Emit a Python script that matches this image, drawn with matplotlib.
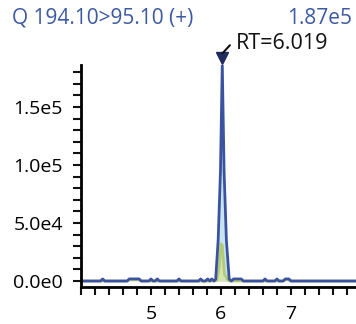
import numpy as np
import matplotlib.pyplot as plt
from matplotlib.transforms import ScaledTranslation
from matplotlib.ticker import FixedLocator, MultipleLocator, FuncFormatter

plt.rcParams['font.family'] = ['Open Sans', 'DejaVu Sans']

title = 'Q 194.10>95.10 (+)'
max_label = '1.87e5'
rt = 6.019
apex = 187000
rt_label = 'RT=6.019'

# main trace (time in min, intensity)
t_main = [4.0, 4.28, 4.31, 4.34, 4.66, 4.69, 4.83, 4.86, 4.97, 5.0, 5.03, 5.06, 5.09, 5.12,
          5.37, 5.40, 5.43, 5.68, 5.71, 5.74, 5.78, 5.81, 5.84, 5.87, 5.90, 5.925,
          5.96, 5.993, 6.019, 6.045, 6.078, 6.118, 6.15, 6.18, 6.29, 6.32,
          6.60, 6.63, 6.66, 6.77, 6.80, 6.83, 6.89, 6.92, 6.97, 7.00, 7.95]
i_main = [0, 0, 1800, 0, 0, 1800, 1800, 0, 0, 1800, 0, 0, 1800, 0,
          0, 1800, 0, 0, 1800, 0, 0, 1800, 0, 1800, 0, 1500,
          35000, 94000, 187000, 94000, 35000, 1500, 0, 1800, 1800, 0,
          0, 1800, 0, 0, 1800, 0, 0, 1800, 1800, 0, 0]

# qualifier trace
t_qual = [4.0, 4.66, 4.69, 4.83, 4.86, 5.90, 5.94, 5.975, 6.0, 6.019, 6.05, 6.09, 6.12,
          6.89, 6.92, 6.97, 7.00, 7.95]
i_qual = [0, 0, 1500, 1500, 0, 0, 500, 12000, 32000, 31000, 6000, 1500, 0,
          0, 1500, 1500, 0, 0]

blue = '#3a52a0'
green = '#b3ca78'

fig = plt.figure(figsize=(3.56, 3.24), dpi=100)
ax = fig.add_axes([0.2275, 0.114, 0.7725, 0.685])

# peak fill (integration region)
tm = np.array(t_main)
im = np.array(i_main)
sel = (tm >= 5.925) & (tm <= 6.118)
ax.fill_between(tm[sel], 0, im[sel], color='#c8e5ef', lw=0)
ax.fill_between(t_qual, 0, i_qual, color='#d6e4ad', lw=0)
ax.plot(t_qual, i_qual, color=green, lw=2)
ax.plot(t_main, i_main, color=blue, lw=2)

def shifted(dx, dy):
    # data position of the apex, moved by (dx, dy) points
    return ax.transData + ScaledTranslation(dx / 72, dy / 72, fig.dpi_scale_trans)

# apex marker + RT annotation
ax.plot([rt], [apex], marker='v', color='#1f2c60', ms=9, linestyle='none',
        transform=shifted(0, 4), clip_on=False)
ax.annotate('', xy=(rt, apex), xycoords=shifted(0, 7.5),
            xytext=(rt, apex), textcoords=shifted(5.5, 13.5),
            arrowprops=dict(arrowstyle='-', color='#111111', lw=1.5, shrinkA=0, shrinkB=0),
            annotation_clip=False)
ax.annotate(rt_label, xy=(rt, apex), xytext=(9.5, 14.5), textcoords='offset points',
            fontsize=15.5, color='#111111', va='center', ha='left', annotation_clip=False)

ax.set_xlim(4.0, 7.93)
ax.set_ylim(-5200, 186000)

ax.xaxis.set_major_locator(FixedLocator([5, 6, 7]))
ax.xaxis.set_minor_locator(MultipleLocator(0.2))
ax.yaxis.set_major_locator(FixedLocator([0, 50000, 100000, 150000]))
ax.yaxis.set_minor_locator(MultipleLocator(10000))
ax.yaxis.set_major_formatter(FuncFormatter(
    lambda v, p: '0.0e0' if v == 0 else '%.1fe%d' % (v / 10 ** int(np.floor(np.log10(v))), int(np.floor(np.log10(v))))))

for s in ['top', 'right']:
    ax.spines[s].set_visible(False)
for s in ['left', 'bottom']:
    ax.spines[s].set_linewidth(2)
ax.tick_params(which='both', direction='out', length=6, width=1.5, color='#111111')
ax.tick_params(axis='x', labelsize=14, pad=7)
ax.tick_params(axis='y', labelsize=14, pad=7)

fig.text(0.034, 0.944, title, fontsize=15, color='#3c5aa2', ha='left', va='center')
fig.text(0.99, 0.944, max_label, fontsize=15, color='#3c5aa2', ha='right', va='center')

fig.savefig('out.png', dpi=100)
